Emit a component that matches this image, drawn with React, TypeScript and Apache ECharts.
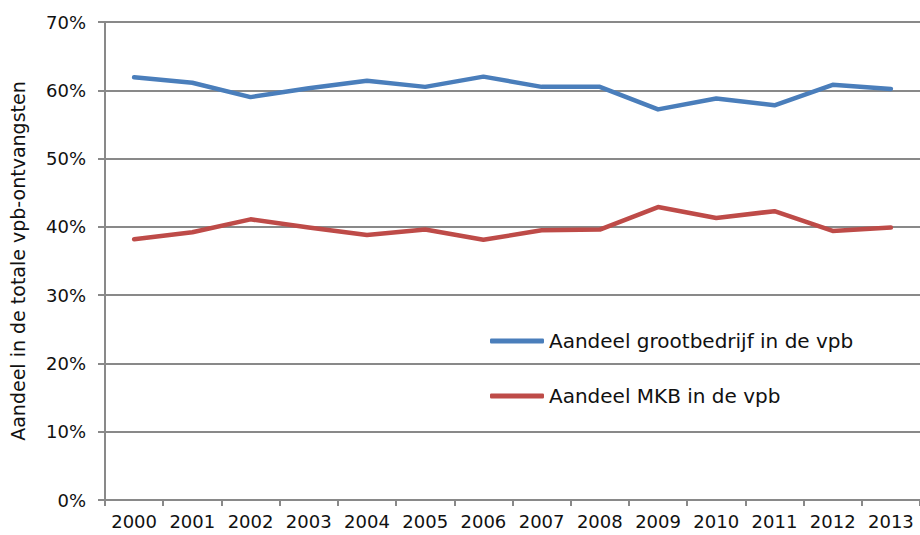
import React, { useEffect, useRef } from "react";
import * as echarts from "echarts";

const years = ["2000","2001","2002","2003","2004","2005","2006","2007","2008","2009","2010","2011","2012","2013"];
const grootbedrijf = [61.9, 61.1, 59.0, 60.3, 61.4, 60.5, 62.0, 60.5, 60.5, 57.2, 58.8, 57.8, 60.8, 60.2];
const mkb = [38.2, 39.2, 41.1, 39.9, 38.8, 39.6, 38.1, 39.5, 39.6, 42.9, 41.3, 42.3, 39.4, 39.9];
const seriesNames = ["Aandeel grootbedrijf in de vpb", "Aandeel MKB in de vpb"];
const yAxisTitle = "Aandeel in de totale vpb-ontvangsten";

const FONT = "DejaVu Sans";
const GRAY = "#898989";

export default function App() {
  const ref = useRef<HTMLDivElement>(null);
  useEffect(() => {
    if (!ref.current) return;
    const chart = echarts.init(ref.current, undefined, { renderer: "svg" });
    chart.setOption({
      animation: false,
      backgroundColor: "#ffffff",
      grid: { left: 105, top: 22, right: -1, bottom: 35, containLabel: false },
      legend: {
        orient: "vertical",
        left: 485,
        top: 326,
        itemWidth: 54,
        itemHeight: 5,
        itemGap: 35,
        icon: "roundRect",
        textStyle: { fontFamily: FONT, fontSize: 20, color: "#111", lineHeight: 20, padding: [0, 0, 0, 0] },
        data: seriesNames,
      },
      xAxis: {
        type: "category",
        data: years,
        boundaryGap: true,
        axisLine: { show: true, lineStyle: { color: GRAY, width: 2 } },
        axisTick: { show: true, length: 6, alignWithLabel: false, lineStyle: { color: GRAY, width: 2 } },
        axisLabel: { margin: 12, fontFamily: FONT, fontSize: 18, color: "#111", interval: 0 },
        splitLine: { show: false },
      },
      yAxis: {
        type: "value",
        min: 0,
        max: 70,
        interval: 10,
        name: yAxisTitle,
        nameLocation: "middle",
        nameGap: 78,
        nameTextStyle: { fontFamily: FONT, fontSize: 19, color: "#111" },
        axisLine: { show: true, lineStyle: { color: GRAY, width: 2 } },
        axisTick: { show: true, length: 7, lineStyle: { color: GRAY, width: 2 } },
        axisLabel: { margin: 19, fontFamily: FONT, fontSize: 18, color: "#111", formatter: "{value}%" },
        splitLine: { show: true, lineStyle: { color: GRAY, width: 2 } },
      },
      series: [
        {
          name: seriesNames[0],
          type: "line",
          data: grootbedrijf,
          symbol: "none",
          itemStyle: { color: "#4A7EBB" },
          lineStyle: { color: "#4A7EBB", width: 4.5, cap: "round", join: "round" },
        },
        {
          name: seriesNames[1],
          type: "line",
          data: mkb,
          symbol: "none",
          itemStyle: { color: "#BE4B48" },
          lineStyle: { color: "#BE4B48", width: 4.5, cap: "round", join: "round" },
        },
      ],
    });
    return () => chart.dispose();
  }, []);
  return (
    <div
      ref={ref}
      style={{ position: "fixed", left: 0, top: 0, width: 920, height: 535 }}
    />
  );
}
